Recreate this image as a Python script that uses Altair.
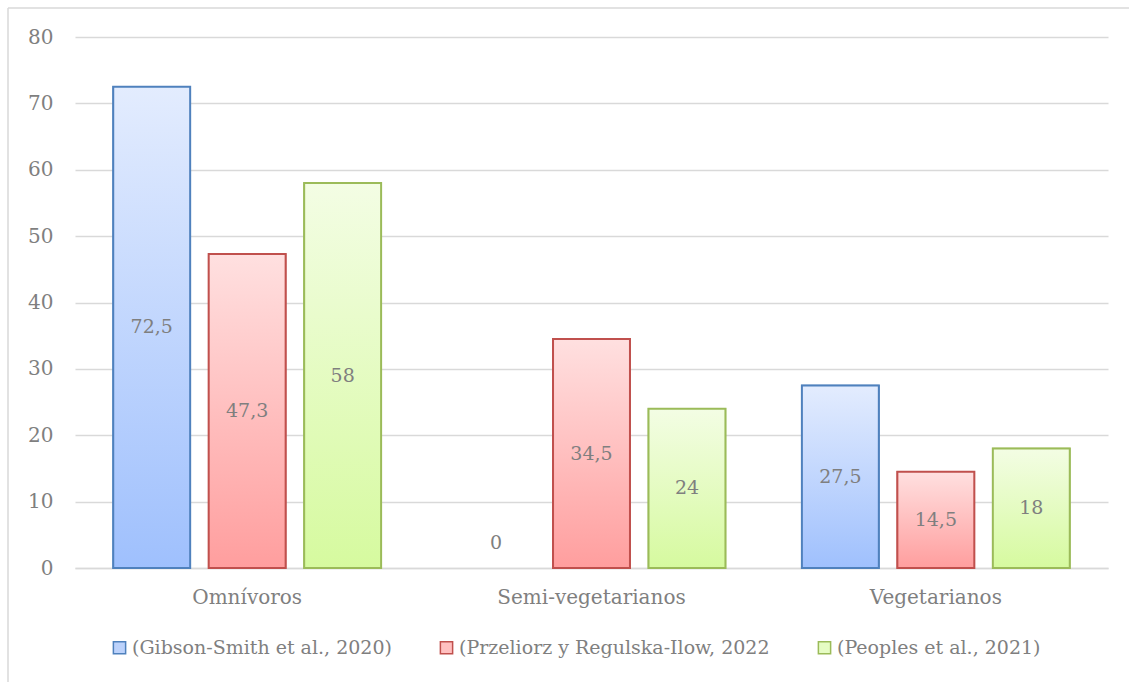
import altair as alt
import pandas as pd

categories = ["Omnívoros", "Semi-vegetarianos", "Vegetarianos"]
series = ["(Gibson-Smith et al., 2020)", "(Przeliorz y Regulska-Ilow, 2022", "(Peoples et al., 2021)"]
gibson = [72.5, 0, 27.5]
przeliorz = [47.3, 34.5, 14.5]
peoples = [58, 24, 18]
y_ticks = [0, 10, 20, 30, 40, 50, 60, 70, 80]

stroke_colors = ["#4f81bd", "#c0504d", "#9bbb59"]
mid_colors = ["#bcd2fb", "#ffc0c0", "#e6fcc4"]
grad_stops = [("#e3ecfe", "#9fc0fd"), ("#ffe0e0", "#ff9e9e"), ("#f3fde4", "#d6fa9f")]

rows = []
for s, vals in zip(series, [gibson, przeliorz, peoples]):
    for c, v in zip(categories, vals):
        rows.append({"cat": c, "series": s, "value": v})
df = pd.DataFrame(rows)

FONT = "DejaVu Serif"
GRAY = "#7f7f7f"

x_enc = alt.X("cat:N", sort=categories, title=None,
              scale=alt.Scale(paddingInner=0.222, paddingOuter=0.111),
              axis=alt.Axis(labelAngle=0, labelFont=FONT, labelFontSize=20, labelColor=GRAY,
                            ticks=False, domainColor="#d9d9d9", domainWidth=1.5, labelPadding=19,
                            labelLimit=400))
xo_enc = alt.XOffset("series:N", sort=series,
                     scale=alt.Scale(domain=series, paddingInner=0.194, paddingOuter=0))
y_enc = alt.Y("value:Q", title=None,
              scale=alt.Scale(domain=[0, 80], nice=False),
              axis=alt.Axis(values=y_ticks, labelFont=FONT, labelFontSize=20, labelColor=GRAY,
                            ticks=False, domain=False, gridColor="#d9d9d9", gridWidth=1.5,
                            labelPadding=22))

base = alt.Chart(df)
bars = base.transform_filter(alt.datum.value > 0)

legend_layer = bars.mark_bar(strokeWidth=1.5).encode(
    x=x_enc, xOffset=xo_enc, y=y_enc,
    fill=alt.Fill("series:N", sort=series,
                  scale=alt.Scale(domain=series, range=mid_colors),
                  legend=alt.Legend(title=None, orient="none", direction="horizontal",
                                    legendX=35, legendY=601,
                                    symbolType="square", symbolSize=150, symbolStrokeWidth=1.5,
                                    labelFont=FONT, labelFontSize=19, labelColor=GRAY,
                                    columnPadding=45, labelOffset=3, labelLimit=500)),
    stroke=alt.Stroke("series:N", sort=series,
                      scale=alt.Scale(domain=series, range=stroke_colors)),
)

grad_layers = []
for s, sc, (top, bot) in zip(series, stroke_colors, grad_stops):
    grad = alt.Gradient(gradient="linear",
                        stops=[alt.GradientStop(color=top, offset=0),
                               alt.GradientStop(color=bot, offset=1)],
                        x1=0, x2=0, y1=0, y2=1)
    layer = bars.transform_filter(alt.datum.series == s).mark_bar(
        fill=grad, stroke=sc, strokeWidth=2
    ).encode(x=x_enc, xOffset=xo_enc, y=y_enc)
    grad_layers.append(layer)

labels = base.transform_calculate(
    pos="datum.value == 0 ? 3.8 : datum.value / 2",
    lab="replace('' + datum.value, '.', ',')"
).mark_text(font=FONT, fontSize=19, color=GRAY, baseline="middle").encode(
    x=x_enc, xOffset=xo_enc,
    y=alt.Y("pos:Q", scale=alt.Scale(domain=[0, 80], nice=False)),
    text="lab:N",
)

border = alt.Chart(pd.DataFrame({"a": [0]})).mark_rule(color="#d9d9d9", strokeWidth=1.5).encode(
    x=alt.value(-67), x2=alt.value(1060), y=alt.value(-29)
)
border2 = alt.Chart(pd.DataFrame({"a": [0]})).mark_rule(color="#d9d9d9", strokeWidth=1.5).encode(
    x=alt.value(-67), y=alt.value(-29), y2=alt.value(650)
)

chart = alt.layer(legend_layer, *grad_layers, labels, border, border2).properties(
    width=1033, height=531,
    autosize=alt.AutoSizeParams(type="none"),
    padding={"left": 75, "top": 37, "right": 21, "bottom": 114},
    background="white",
).configure_view(stroke=None)

chart.save("out.html", embed_options={"renderer": "svg", "actions": False})
